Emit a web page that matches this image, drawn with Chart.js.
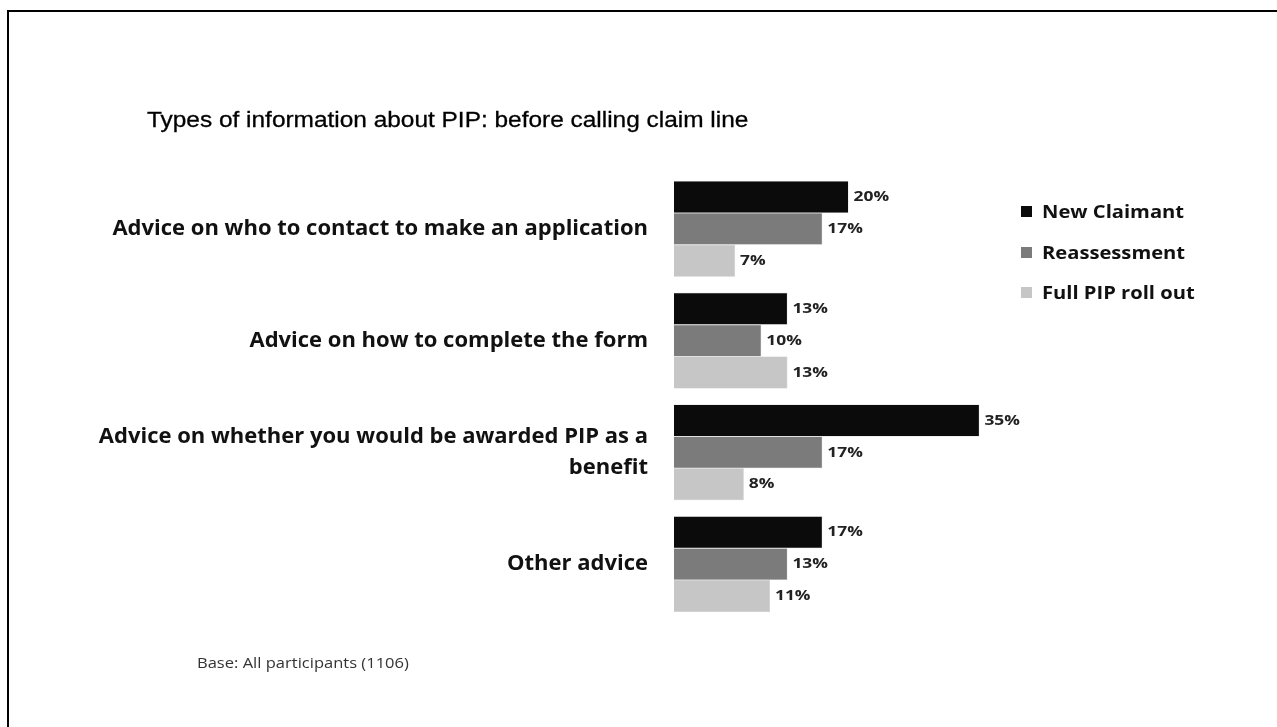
<!DOCTYPE html>
<html>
<head>
<meta charset="utf-8">
<script src="https://cdn.jsdelivr.net/npm/chart.js@4.4.1/dist/chart.umd.min.js"></script>
<style>
  html, body { margin: 0; padding: 0; background: #fff; }
  #wrap { position: relative; width: 1277px; height: 727px; overflow: hidden; }
  #frame { position: absolute; left: 7px; top: 10px; width: 1290px; height: 740px;
           border-left: 2px solid #000; border-top: 2px solid #000; box-sizing: border-box; }
  canvas { position: absolute; left: 0; top: 0; }
  #title { position: absolute; left: 147px; top: 107px; font-family: "Liberation Sans", Arial, sans-serif;
           font-size: 22px; color: #000; white-space: nowrap; transform: scaleX(1.11); transform-origin: left top;
           -webkit-text-stroke: 0.3px #000; }
  #base { position: absolute; left: 197px; top: 653px; font-family: "Open Sans", sans-serif;
          font-size: 14px; color: #333; white-space: nowrap; transform: scaleX(1.18); transform-origin: left top; }
  #legend { position: absolute; left: 1021px; top: 198px; font-family: "Open Sans", sans-serif;
            font-weight: bold; font-size: 18px; color: #111; }
  #legend div { height: 40.5px; line-height: 26px; white-space: nowrap; }
  #legend span.sw { display: inline-block; width: 11px; height: 11px; margin-right: 10px; vertical-align: 1px; }
  #legend span.tx { display: inline-block; transform: scaleX(1.12); transform-origin: left center; }
</style>
</head>
<body>
<div id="wrap">
  <div id="frame"></div>
  <canvas id="c" width="1277" height="727"></canvas>
  <div id="title">Types of information about PIP: before calling claim line</div>
  <div id="legend"></div>
  <div id="base">Base: All participants (1106)</div>
</div>
<script>
// Survey answer categories (long one wraps onto two lines)
const categories = [
  "Advice on who to contact to make an application",
  "Advice on how to complete the form",
  ["Advice on whether you would be awarded PIP as a", "benefit"],
  "Other advice"
];
const seriesNames = ["New Claimant", "Reassessment", "Full PIP roll out"];
const newClaimant = [20, 13, 35, 17];
const reassessment = [17, 10, 17, 13];
const fullRollOut = [7, 13, 8, 11];
const seriesColors = ["#0b0b0b", "#7b7b7b", "#c6c6c6"];

const legendEl = document.getElementById("legend");
seriesNames.forEach((name, i) => {
  const row = document.createElement("div");
  const sw = document.createElement("span");
  sw.className = "sw";
  sw.style.background = seriesColors[i];
  const tx = document.createElement("span");
  tx.className = "tx";
  tx.textContent = name;
  row.appendChild(sw);
  row.appendChild(tx);
  legendEl.appendChild(row);
});

// Writes each bar's percentage just past its end, in a slightly wide face
const valueLabels = {
  id: "valueLabels",
  afterDatasetsDraw(chart) {
    const ctx = chart.ctx;
    chart.data.datasets.forEach((ds, di) => {
      chart.getDatasetMeta(di).data.forEach((bar, i) => {
        ctx.save();
        ctx.font = "bold 14.5px 'Open Sans', sans-serif";
        ctx.fillStyle = "#222";
        ctx.textAlign = "left";
        ctx.textBaseline = "middle";
        ctx.translate(bar.x + 5, bar.y);
        ctx.scale(1.2, 1);
        ctx.fillText(ds.data[i] + "%", 0, 0);
        ctx.restore();
      });
    });
  }
};

const values = [newClaimant, reassessment, fullRollOut];
new Chart(document.getElementById("c"), {
  type: "bar",
  data: {
    labels: categories,
    datasets: seriesNames.map((name, i) => ({
      label: name,
      data: values[i],
      backgroundColor: seriesColors[i],
      borderColor: "rgba(150,150,150,0.6)",
      borderWidth: 0.5,
      barPercentage: 1,
      categoryPercentage: 0.857
    }))
  },
  options: {
    indexAxis: "y",
    responsive: false,
    animation: false,
    layout: { padding: { left: 0, top: 173, bottom: 107, right: 254 } },
    plugins: { legend: { display: false }, tooltip: { enabled: false } },
    scales: {
      x: { display: false, min: 0, max: 40 },
      y: {
        grid: { display: false, drawTicks: false },
        border: { display: false },
        ticks: {
          padding: 26,
          color: "#111",
          font: { family: "'Open Sans', sans-serif", weight: "bold", size: 22, lineHeight: 1.4 }
        },
        afterFit(scale) { scale.width = 674; }
      }
    }
  },
  plugins: [valueLabels]
});
</script>
</body>
</html>
